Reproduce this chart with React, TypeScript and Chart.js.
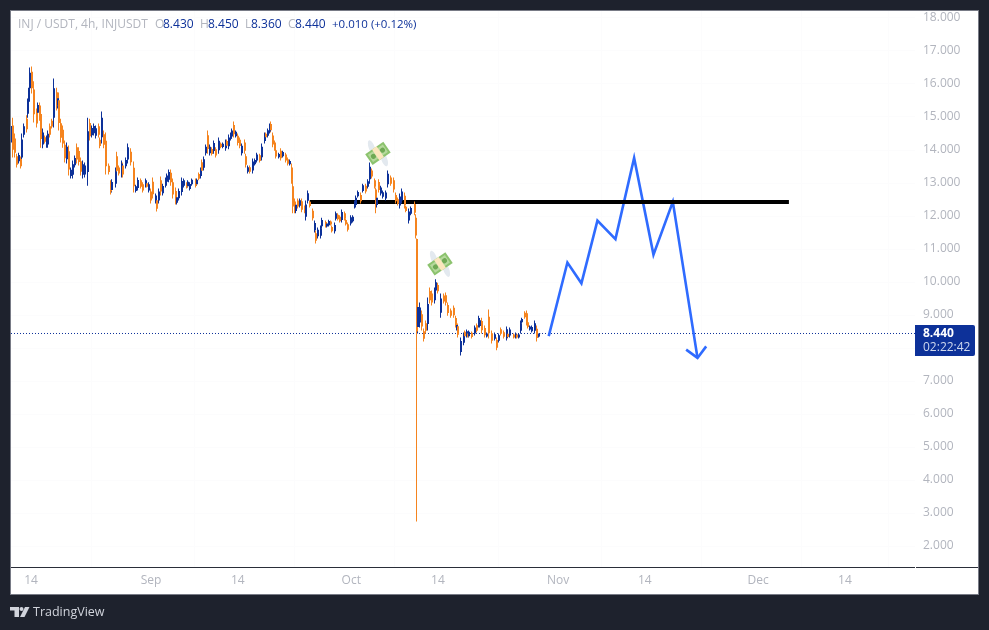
import { useEffect, useRef } from "react";
import { Chart, registerables } from "chart.js";

Chart.register(...registerables);

// 4h slot of each sampled candle, counted from Aug 11 00:00
const candleSlots = [
  0, 2, 4, 5, 7, 9, 10, 12, 14, 15,
  16, 17, 19, 21, 23, 24, 26, 27, 29, 31,
  32, 33, 35, 37, 39, 41, 42, 43, 45, 47,
  49, 50, 52, 54, 56, 58, 59, 61, 63, 65,
  67, 69, 71, 73, 75, 76, 79, 80, 82, 84,
  85, 88, 90, 91, 94, 95, 97, 100, 101, 103,
  105, 108, 111, 112, 114, 117, 119, 121, 122, 124,
  126, 128, 130, 131, 133, 135, 137, 139, 140, 142,
  144, 146, 148, 149, 151, 154, 156, 158, 159, 161,
  163, 166, 167, 169, 171, 172, 174, 175, 177, 179,
  181, 183, 184, 187, 189, 191, 193, 194, 196, 198,
  199, 201, 202, 204, 206, 208, 210, 211, 213, 215,
  218, 219, 221, 224, 226, 228, 229, 231, 233, 234,
  236, 237, 238, 241, 243, 245, 247, 249, 251, 253,
  254, 255, 256, 258, 260, 262, 264, 265, 267, 269,
  272, 273, 274, 276, 279, 280, 283, 284, 286, 288,
  289, 291, 292, 294, 296, 298, 300, 301, 303, 306,
  308, 309, 310, 312, 315, 317, 319, 321, 323, 325,
  327, 328, 329, 331, 333, 335, 337, 339, 342, 344,
  346, 348, 350, 352, 354, 355, 358, 360, 363, 364,
  365, 366, 368, 370, 371, 373, 375, 377, 379, 381,
  382, 384, 387, 389, 391, 393, 396, 398, 400, 401,
  402, 405, 407, 408, 410, 411, 412, 415, 417, 419,
  421, 422, 424, 426, 428, 430, 433, 435, 437, 439,
  441, 443, 446, 447, 449, 452, 454, 455, 457, 459,
  460, 462, 464, 465, 467, 469, 471, 473, 475, 476,
];

const opens = [
  14.23, 14.74, 14.35, 13.81, 13.66, 13.73, 13.77, 14.46, 14.95, 15.1,
  15.46, 15.87, 16.37, 15.83, 15.14, 15.13, 15.33, 15.09, 14.17, 14.39,
  14.14, 14.17, 14.72, 14.89, 14.98, 15.75, 15.34, 15.51, 14.81, 14.61,
  14.16, 13.72, 13.96, 13.21, 13.25, 13.54, 14.08, 13.97, 13.66, 13.25,
  13.26, 13.33, 14.82, 14.45, 14.51, 14.43, 14.72, 14.31, 14.39, 14.48,
  14.28, 13.52, 12.99, 12.79, 12.98, 13.81, 13.47, 13.27, 13.53, 13.51,
  13.71, 13.95, 13.46, 12.76, 12.85, 13.08, 12.96, 12.92, 12.99, 12.77,
  12.74, 13.04, 12.44, 12.48, 12.47, 13.08, 12.69, 12.92, 13.04, 13.1,
  13.31, 13.02, 12.76, 12.4, 12.54, 12.73, 12.92, 12.98, 12.9, 12.82,
  12.96, 13.08, 12.96, 13.27, 13.21, 13.63, 13.46, 13.9, 14.45, 13.9,
  14.03, 13.97, 14.02, 13.99, 14.19, 14.09, 14.05, 14.27, 14.11, 14.34,
  14.41, 14.76, 14.42, 14.43, 14.31, 13.9, 14.23, 13.81, 13.34, 13.48,
  13.38, 13.57, 13.68, 13.84, 13.78, 14.27, 14.49, 14.43, 14.56, 14.79,
  14.44, 14.23, 13.99, 13.78, 13.98, 13.81, 13.86, 13.72, 13.57, 13.47,
  12.9, 12.44, 12.15, 12.47, 12.31, 12.45, 12.27, 11.98, 12.46, 12.43,
  12.16, 11.57, 11.48, 11.39, 11.4, 11.69, 11.82, 11.68, 11.72, 11.83,
  11.67, 11.54, 11.92, 12.04, 11.98, 11.88, 12.08, 11.88, 11.75, 11.77,
  11.84, 12.28, 12.33, 12.6, 12.64, 12.76, 12.92, 12.89, 13.11, 13.38,
  13.08, 12.8, 12.33, 13.03, 12.68, 12.58, 12.53, 12.96, 13.17, 13.08,
  12.64, 12.51, 12.32, 12.47, 12.61, 12.28, 11.86, 12.07, 12.36, 11.95,
  11.3, 8.64, 8.77, 9.02, 8.51, 8.75, 8.73, 9.73, 9.65, 9.45,
  9.74, 9.91, 9.07, 9.59, 9.6, 9.3, 9.14, 9.22, 8.91, 8.57,
  8.66, 7.88, 8.16, 8.49, 8.37, 8.44, 8.36, 8.46, 8.44, 8.69,
  8.69, 8.67, 8.82, 8.61, 8.35, 8.95, 8.45, 8.28, 8.24, 8.22,
  8.57, 8.48, 8.31, 8.43, 8.38, 8.41, 8.33, 8.41, 8.32, 8.52,
  8.78, 9.07, 9.05, 8.78, 8.56, 8.51, 8.52, 8.58, 8.35, 8.43,
];

const closes = [
  14.73, 14.01, 13.92, 13.55, 13.85, 13.51, 14.32, 14.72, 14.63, 15.44,
  15.78, 16.34, 15.87, 15.08, 14.8, 15.36, 15.0, 14.33, 14.53, 14.25,
  14.37, 14.49, 14.46, 14.71, 15.87, 15.34, 15.57, 14.82, 14.37, 14.2,
  13.75, 14.1, 13.41, 13.4, 13.57, 13.76, 13.71, 13.64, 13.34, 13.57,
  13.53, 14.57, 14.42, 14.67, 14.73, 14.66, 14.46, 14.12, 14.98, 14.16,
  13.51, 13.33, 12.74, 13.03, 13.35, 13.37, 13.29, 13.58, 13.26, 13.7,
  14.08, 13.63, 12.9, 12.9, 13.09, 12.89, 12.77, 13.08, 12.89, 12.96,
  12.47, 12.66, 12.62, 12.22, 12.74, 12.74, 12.91, 13.11, 13.23, 13.33,
  13.02, 12.65, 12.45, 12.57, 12.76, 13.06, 13.08, 12.87, 13.04, 12.97,
  13.1, 12.92, 13.1, 13.13, 13.4, 13.37, 13.72, 14.1, 14.03, 14.1,
  13.88, 14.21, 13.83, 14.28, 14.09, 14.19, 14.25, 14.13, 14.38, 14.48,
  14.59, 14.48, 14.55, 14.21, 14.12, 14.13, 13.98, 13.55, 13.48, 13.34,
  13.65, 13.7, 13.86, 13.67, 14.1, 14.46, 14.39, 14.6, 14.74, 14.6,
  14.17, 14.04, 13.8, 13.88, 13.75, 13.94, 13.68, 13.58, 13.67, 13.1,
  12.29, 12.17, 12.34, 12.29, 12.48, 12.19, 12.13, 12.35, 12.69, 12.3,
  11.93, 11.79, 11.25, 11.58, 11.63, 11.88, 11.69, 11.77, 11.85, 11.74,
  11.54, 11.73, 12.08, 11.9, 11.84, 12.12, 11.92, 11.75, 11.58, 11.96,
  11.98, 12.42, 12.55, 12.73, 12.45, 12.93, 12.74, 13.05, 13.49, 13.2,
  12.89, 12.5, 12.55, 12.79, 12.86, 12.72, 12.71, 13.28, 12.98, 12.8,
  12.45, 12.37, 12.59, 12.74, 12.33, 12.15, 12.14, 12.24, 12.1, 11.41,
  8.5, 9.24, 9.23, 8.65, 8.28, 8.52, 9.33, 9.45, 9.38, 9.73,
  9.99, 9.72, 9.5, 9.41, 9.37, 9.06, 8.98, 8.99, 8.69, 8.7,
  8.4, 8.21, 8.39, 8.36, 8.51, 8.35, 8.49, 8.33, 8.62, 8.52,
  8.91, 8.84, 8.54, 8.39, 8.44, 8.45, 8.22, 8.42, 8.01, 8.39,
  8.43, 8.34, 8.57, 8.33, 8.56, 8.32, 8.43, 8.32, 8.41, 8.75,
  8.88, 8.93, 8.77, 8.64, 8.65, 8.64, 8.75, 8.3, 8.41, 8.44,
];

const highs = [
  14.89, 14.98, 14.5, 13.89, 13.92, 13.8, 14.5, 14.8, 15.05, 15.56,
  15.89, 16.5, 16.53, 16.08, 15.26, 15.44, 15.44, 15.35, 14.65, 14.44,
  14.44, 14.59, 14.8, 14.95, 16.17, 15.89, 15.65, 15.74, 14.95, 14.74,
  14.29, 14.23, 14.14, 13.47, 13.68, 13.83, 14.2, 14.08, 13.77, 13.68,
  13.62, 14.98, 14.95, 14.74, 14.8, 14.74, 14.8, 14.38, 15.17, 14.59,
  14.53, 13.59, 13.08, 13.11, 13.47, 13.95, 13.53, 13.68, 13.62, 13.77,
  14.2, 14.05, 13.65, 12.95, 13.17, 13.14, 13.02, 13.14, 13.02, 13.02,
  12.83, 13.17, 12.68, 12.56, 12.83, 13.2, 12.98, 13.17, 13.29, 13.41,
  13.41, 13.14, 12.86, 12.62, 12.83, 13.17, 13.14, 13.02, 13.08, 13.02,
  13.14, 13.14, 13.14, 13.32, 13.47, 13.71, 13.8, 14.17, 14.59, 14.17,
  14.08, 14.29, 14.08, 14.38, 14.23, 14.23, 14.32, 14.32, 14.47, 14.53,
  14.65, 14.86, 14.59, 14.5, 14.38, 14.2, 14.32, 13.89, 13.53, 13.53,
  13.74, 13.74, 13.92, 13.89, 14.2, 14.53, 14.53, 14.65, 14.8, 14.86,
  14.53, 14.29, 14.05, 13.92, 14.05, 13.98, 13.92, 13.77, 13.71, 13.59,
  13.11, 12.53, 12.41, 12.53, 12.53, 12.53, 12.32, 12.47, 12.77, 12.47,
  12.23, 11.86, 11.56, 11.65, 11.71, 11.95, 11.86, 11.8, 11.89, 11.86,
  11.71, 11.8, 12.14, 12.08, 12.02, 12.2, 12.14, 11.92, 11.8, 12.02,
  12.02, 12.47, 12.62, 12.77, 12.71, 12.98, 12.98, 13.11, 13.62, 13.44,
  13.14, 12.86, 12.62, 13.11, 12.92, 12.77, 12.77, 13.38, 13.23, 13.17,
  12.71, 12.56, 12.68, 12.83, 12.71, 12.32, 12.23, 12.29, 12.44, 12.05,
  11.32, 9.44, 9.38, 9.14, 8.59, 8.83, 9.53, 9.83, 9.74, 9.83,
  10.08, 9.98, 9.65, 9.65, 9.68, 9.38, 9.2, 9.29, 8.98, 8.74,
  8.74, 8.32, 8.47, 8.53, 8.56, 8.47, 8.53, 8.5, 8.68, 8.74,
  8.98, 8.89, 8.92, 8.68, 8.47, 9.17, 8.53, 8.47, 8.32, 8.44,
  8.62, 8.53, 8.65, 8.47, 8.62, 8.44, 8.47, 8.44, 8.44, 8.83,
  8.92, 9.11, 9.14, 8.83, 8.68, 8.68, 8.83, 8.68, 8.44, 8.45,
];

const lows = [
  14.07, 13.77, 13.77, 13.47, 13.59, 13.44, 13.59, 14.38, 14.53, 14.98,
  15.35, 15.71, 15.71, 14.83, 14.68, 15.05, 14.89, 14.07, 14.05, 14.2,
  14.07, 14.07, 14.38, 14.65, 14.68, 15.2, 15.26, 14.59, 14.23, 14.07,
  13.62, 13.59, 13.23, 13.14, 13.14, 13.47, 13.59, 13.53, 13.23, 13.14,
  13.17, 12.92, 14.29, 14.38, 14.44, 14.35, 14.38, 14.05, 14.2, 14.05,
  13.26, 13.26, 12.65, 12.71, 12.86, 13.23, 13.23, 13.17, 13.17, 13.44,
  13.59, 13.53, 12.71, 12.71, 12.77, 12.83, 12.71, 12.86, 12.86, 12.71,
  12.38, 12.53, 12.38, 12.14, 12.38, 12.62, 12.62, 12.86, 12.98, 13.02,
  12.92, 12.53, 12.35, 12.35, 12.47, 12.62, 12.86, 12.83, 12.86, 12.77,
  12.92, 12.86, 12.92, 13.08, 13.14, 13.29, 13.38, 13.83, 13.89, 13.83,
  13.83, 13.89, 13.77, 13.89, 14.05, 14.05, 13.98, 14.08, 14.02, 14.29,
  14.35, 14.38, 14.38, 14.14, 14.05, 13.83, 13.89, 13.47, 13.29, 13.29,
  13.29, 13.53, 13.62, 13.62, 13.68, 14.2, 14.35, 14.38, 14.5, 14.53,
  14.08, 13.98, 13.74, 13.74, 13.68, 13.77, 13.62, 13.53, 13.53, 12.98,
  12.08, 12.08, 12.08, 12.23, 12.26, 12.11, 12.08, 11.86, 12.38, 12.26,
  11.86, 11.5, 11.17, 11.32, 11.32, 11.62, 11.65, 11.65, 11.68, 11.71,
  11.5, 11.47, 11.86, 11.86, 11.8, 11.8, 11.86, 11.71, 11.53, 11.71,
  11.8, 12.23, 12.26, 12.56, 12.38, 12.71, 12.68, 12.83, 12.98, 13.14,
  12.83, 12.08, 12.26, 12.71, 12.62, 12.53, 12.47, 12.86, 12.92, 12.71,
  12.38, 12.32, 12.23, 12.38, 12.23, 12.11, 11.77, 12.02, 12.02, 11.32,
  2.74, 8.44, 8.62, 8.53, 8.2, 8.44, 8.53, 9.35, 9.29, 9.35,
  9.65, 9.65, 8.92, 9.35, 9.29, 8.98, 8.92, 8.92, 8.62, 8.53,
  8.32, 7.77, 8.08, 8.32, 8.32, 8.32, 8.32, 8.29, 8.38, 8.47,
  8.62, 8.62, 8.44, 8.32, 8.32, 8.29, 8.14, 8.23, 7.93, 8.17,
  8.38, 8.29, 8.23, 8.29, 8.32, 8.29, 8.29, 8.29, 8.29, 8.44,
  8.74, 8.89, 8.68, 8.59, 8.53, 8.47, 8.44, 8.2, 8.32, 8.36,
];

// days counted from Aug 1
const xTickDays = [13, 31, 44, 61, 74, 92, 105, 122, 135];
const xTickLabels = ["14", "Sep", "14", "Oct", "14", "Nov", "14", "Dec", "14"];

const supportDays = [54.8, 126.6];
const supportPrices = [12.425, 12.425];

const forecastDays = [90.6, 93.4, 95.5, 97.9, 100.6, 103.4, 106.3, 109.2, 112.9];
const forecastPrices = [8.36, 10.59, 9.96, 11.86, 11.3, 13.76, 10.83, 12.43, 7.7];
const arrowDays = [111.2, 112.9, 114.2];
const arrowPrices = [7.95, 7.7, 8.05];

const iconDays = [65, 74.3];
const iconPrices = [13.9, 10.55];

const lastPrice = 8.44;
const countdown = "02:22:42";

const xMin = 10;
const xMax = 145.5;
const yMin = 1.364;
const yMax = 18.212;

const UP = "#0d3199";
const DOWN = "#f5841f";
const FONT = "'Open Sans', sans-serif";
const GREY = "#b2b5be";
const BLUE_LINE = "#2f6bff";

const candleDays = candleSlots.map((s) => 10 + s / 6);
const candleColors = opens.map((o, i) => (closes[i] >= o ? UP : DOWN));

function drawIcon(ctx: CanvasRenderingContext2D, x: number, y: number) {
  ctx.save();
  ctx.translate(x, y);
  ctx.rotate(-0.6);
  // wings
  ctx.fillStyle = "#e3e9ef";
  ctx.beginPath();
  ctx.ellipse(-2, -8, 3, 8, 0.25, 0, Math.PI * 2);
  ctx.fill();
  ctx.beginPath();
  ctx.ellipse(2, 8, 3, 8, 0.25, 0, Math.PI * 2);
  ctx.fill();
  // bill
  ctx.fillStyle = "#8cc36e";
  ctx.fillRect(-11, -6.5, 22, 13);
  ctx.fillStyle = "#b5d99c";
  ctx.fillRect(-9, -4.5, 18, 9);
  ctx.fillStyle = "#6fa954";
  ctx.beginPath();
  ctx.arc(-5.5, 0, 2.5, 0, Math.PI * 2);
  ctx.arc(5.5, 0, 2.5, 0, Math.PI * 2);
  ctx.fill();
  ctx.fillStyle = "#fbe6bd";
  ctx.fillRect(-2.8, -6.5, 5.6, 13);
  ctx.restore();
}

// keep candles on whole pixels so they stay crisp
const snapPlugin = {
  id: "snap",
  afterDatasetsUpdate(chart: any) {
    chart.getDatasetMeta(0).data.forEach((el: any) => {
      el.x = Math.round(el.x);
    });
    chart.getDatasetMeta(1).data.forEach((el: any) => {
      el.x = Math.round(el.x) - 0.5;
    });
  },
};

const framePlugin = {
  id: "frame",
  beforeDraw(chart: any) {
    const { ctx } = chart;
    ctx.save();
    ctx.fillStyle = "#1e222d";
    ctx.fillRect(0, 0, chart.width, chart.height);
    ctx.fillStyle = "#787b86";
    ctx.fillRect(10, 10, 969, 585);
    ctx.fillStyle = "#ffffff";
    ctx.fillRect(11, 11, 967, 583);
    ctx.restore();
  },
  afterDraw(chart: any) {
    const { ctx, chartArea, scales } = chart;
    const { x, y } = scales;
    ctx.save();

    // axis line under the plot
    ctx.fillStyle = "#2a2e39";
    ctx.fillRect(11, chartArea.bottom, 967, 1);
    ctx.fillStyle = "#ffffff";
    ctx.fillRect(chartArea.right, chartArea.bottom, 1, 1);

    iconDays.forEach((d, i) => {
      drawIcon(ctx, x.getPixelForValue(d), y.getPixelForValue(iconPrices[i]));
    });

    // header
    ctx.textBaseline = "middle";
    ctx.font = `12px ${FONT}`;
    const parts: [string, string, number][] = [
      ["INJ / USDT, 4h, INJUSDT", GREY, 18],
      ["O", GREY, 155],
      ["8.430", UP, 163],
      ["H", GREY, 200],
      ["8.450", UP, 208],
      ["L", GREY, 245],
      ["8.360", UP, 251],
      ["C", GREY, 288],
      ["8.440", UP, 295],
    ];
    parts.forEach(([text, color, left]) => {
      ctx.fillStyle = color;
      ctx.fillText(text, left, 25);
    });
    ctx.font = `11.5px ${FONT}`;
    ctx.fillStyle = UP;
    ctx.fillText("+0.010 (+0.12%)", 332, 25);

    // last price tag
    const tagY = y.getPixelForValue(lastPrice);
    ctx.fillStyle = UP;
    ctx.beginPath();
    ctx.roundRect(chartArea.right, tagY - 8.5, 60, 31, [0, 2, 2, 0]);
    ctx.fill();
    ctx.font = `bold 12px ${FONT}`;
    ctx.fillStyle = "#ffffff";
    ctx.fillText(lastPrice.toFixed(3), chartArea.right + 8, tagY);
    ctx.font = `12px ${FONT}`;
    ctx.fillStyle = "#cfd8ee";
    ctx.fillText(countdown, chartArea.right + 8, tagY + 14);

    // footer logo and name
    ctx.fillStyle = "#d1d4dc";
    ctx.fillRect(10, 607, 9, 3.5);
    ctx.fillRect(14.5, 607, 4.5, 10);
    ctx.beginPath();
    ctx.arc(21.5, 609, 2, 0, Math.PI * 2);
    ctx.fill();
    ctx.beginPath();
    ctx.moveTo(25, 607);
    ctx.lineTo(29.5, 607);
    ctx.lineTo(24.5, 617);
    ctx.lineTo(20, 617);
    ctx.closePath();
    ctx.fill();
    ctx.font = `12.5px ${FONT}`;
    ctx.fillText("TradingView", 33, 612.5);
    ctx.restore();
  },
};

export default function App() {
  const canvasRef = useRef<HTMLCanvasElement | null>(null);

  useEffect(() => {
    if (!canvasRef.current) return;

    const chart = new Chart(canvasRef.current, {
      type: "bar",
      data: {
        datasets: [
          {
            label: "Bodies",
            data: candleDays.map((d, i) => ({ x: d, y: [opens[i], closes[i]] })),
            backgroundColor: candleColors,
            barThickness: 2,
            grouped: false,
            inflateAmount: 0,
            order: 2,
          },
          {
            label: "Wicks",
            data: candleDays.map((d, i) => ({ x: d, y: [lows[i], highs[i]] })),
            backgroundColor: candleColors,
            barThickness: 1,
            grouped: false,
            inflateAmount: 0,
            order: 3,
          },
          {
            type: "line",
            label: "Support",
            data: supportDays.map((d, i) => ({ x: d, y: supportPrices[i] })),
            borderColor: "#000000",
            borderWidth: 4,
            pointRadius: 0,
            order: 4,
          },
          {
            type: "line",
            label: "Forecast",
            data: forecastDays.map((d, i) => ({ x: d, y: forecastPrices[i] })),
            borderColor: BLUE_LINE,
            borderWidth: 2.6,
            pointRadius: 0,
            tension: 0,
            order: 5,
          },
          {
            type: "line",
            label: "Arrow",
            data: arrowDays.map((d, i) => ({ x: d, y: arrowPrices[i] })),
            borderColor: BLUE_LINE,
            borderWidth: 2.6,
            pointRadius: 0,
            tension: 0,
            order: 5,
          },
          {
            type: "line",
            label: "Last price",
            data: [
              { x: xMin, y: lastPrice },
              { x: xMax, y: lastPrice },
            ],
            borderColor: UP,
            borderWidth: 1,
            borderDash: [1, 2],
            pointRadius: 0,
            order: 6,
          },
        ] as any,
      },
      options: {
        responsive: false,
        animation: false,
        devicePixelRatio: 1,
        layout: { padding: { left: 11, top: 11, right: 10, bottom: 35 } },
        plugins: {
          legend: { display: false },
          tooltip: { enabled: false },
          title: { display: false },
        },
        scales: {
          x: {
            type: "linear",
            min: xMin,
            max: xMax,
            offset: false,
            afterBuildTicks: (scale: any) => {
              scale.ticks = xTickDays.map((value) => ({ value }));
            },
            afterFit: (scale: any) => {
              scale.height = 28;
              scale.paddingLeft = 0;
              scale.paddingRight = 0;
            },
            grid: { color: "#fcfcfd", drawTicks: false },
            border: { display: false },
            ticks: {
              autoSkip: false,
              maxRotation: 0,
              padding: 6,
              color: GREY,
              font: { family: FONT, size: 12 },
              callback: (value: any) => xTickLabels[xTickDays.indexOf(Number(value))],
            },
          },
          y: {
            type: "linear",
            position: "right",
            min: yMin,
            max: yMax,
            afterFit: (scale: any) => {
              scale.width = 64;
              scale.paddingTop = 0;
              scale.paddingBottom = 0;
            },
            grid: { color: "#fcfcfd", drawTicks: false },
            border: { display: false },
            ticks: {
              stepSize: 1,
              includeBounds: false,
              padding: 8,
              color: GREY,
              font: { family: FONT, size: 12 },
              callback: (value: any) => Number(value).toFixed(3),
            },
          },
        },
      },
      plugins: [framePlugin, snapPlugin],
    } as any);

    return () => {
      chart.destroy();
    };
  }, []);

  return (
    <canvas
      ref={canvasRef}
      width={989}
      height={630}
      style={{ position: "fixed", left: 0, top: 0, display: "block" }}
    />
  );
}
